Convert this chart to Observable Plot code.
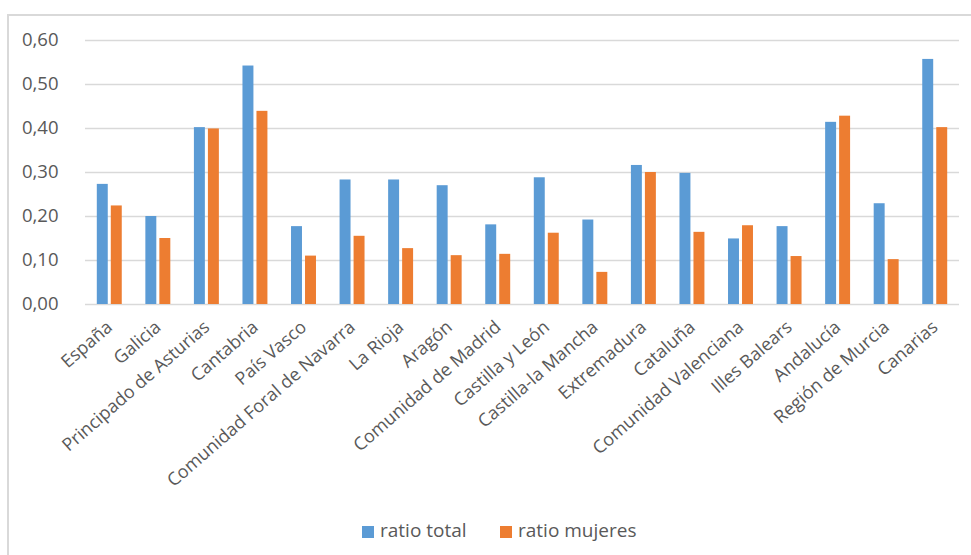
<!DOCTYPE html>
<html><head><meta charset="utf-8">
<script src="https://cdn.jsdelivr.net/npm/d3@7"></script>
<script src="https://cdn.jsdelivr.net/npm/@observablehq/plot@0.6"></script>
<style>
body{margin:0;background:#fff;font-family:"Open Sans",sans-serif;}
#wrap{position:relative;width:971px;height:555px;overflow:hidden;}
#frame{position:absolute;left:7px;top:14px;width:990px;height:580px;border:2px solid #d9d9d9;box-sizing:border-box;}
#chart{position:absolute;left:0;top:0;}
#legend{position:absolute;top:516px;left:0;width:971px;height:28px;font-size:19px;color:#595959;}
.item{position:absolute;top:0;line-height:28px;white-space:nowrap;}
.sw{display:inline-block;width:12px;height:12px;margin-right:6px;vertical-align:-1px;}
</style></head>
<body>
<div id="wrap">
  <div id="frame"></div>
  <div id="chart"></div>
  <div id="legend"></div>
</div>
<script>
const categories = ["España","Galicia","Principado de Asturias","Cantabria","País Vasco","Comunidad Foral de Navarra","La Rioja","Aragón","Comunidad de Madrid","Castilla y León","Castilla-la Mancha","Extremadura","Cataluña","Comunidad Valenciana","Illes Balears","Andalucía","Región de Murcia","Canarias"];
const ratioTotal   = [0.273,0.200,0.402,0.542,0.177,0.283,0.283,0.270,0.181,0.288,0.192,0.316,0.298,0.149,0.177,0.414,0.229,0.557];
const ratioMujeres = [0.224,0.150,0.399,0.439,0.110,0.155,0.127,0.111,0.114,0.162,0.073,0.300,0.164,0.179,0.109,0.428,0.102,0.402];
const seriesNames = ["ratio total","ratio mujeres"];
const seriesColors = ["#5B9BD5","#ED7D31"];
const yTicks = [0,0.1,0.2,0.3,0.4,0.5,0.6];

const totalRows = categories.map((c,i)=>({region:c, serie:seriesNames[0], value:ratioTotal[i]}));
const mujeresRows = categories.map((c,i)=>({region:c, serie:seriesNames[1], value:ratioMujeres[i]}));

const fmt = d => d.toFixed(2).replace(".", ",");

const chart = Plot.plot({
  width: 971, height: 500,
  marginTop: 40, marginBottom: 196, marginLeft: 85, marginRight: 12,
  style: {fontFamily: "'Open Sans', sans-serif", color: "#595959", background: "transparent"},
  x: {domain: categories, padding: 0, round: false, label: null, axis: null},
  y: {domain: [0, 0.6], label: null},
  color: {domain: seriesNames, range: seriesColors},
  marks: [
    Plot.gridY(yTicks, {stroke: "#d9d9d9", strokeOpacity: 1, strokeWidth: 1.5}),
    Plot.axisY(yTicks, {tickFormat: fmt, tickSize: 0, tickPadding: 27, fontSize: 18.5, fill: "#595959", label: null}),
    Plot.axisX({anchor: "bottom", tickRotate: -41, tickSize: 0, tickPadding: 20, fontSize: 18, fill: "#595959", label: null}),
    Plot.barY(totalRows, {x: "region", y: "value", fill: "serie", insetLeft: 18.8, insetRight: 18.8, dx: -7}),
    Plot.barY(mujeresRows, {x: "region", y: "value", fill: "serie", insetLeft: 18.8, insetRight: 18.8, dx: 7})
  ]
});
document.getElementById("chart").appendChild(chart);

const legend = document.getElementById("legend");
const legendLeft = [362, 500];
seriesNames.forEach((s,i)=>{
  const it = document.createElement("div");
  it.className = "item";
  it.style.left = legendLeft[i] + "px";
  const sw = document.createElement("span");
  sw.className = "sw";
  sw.style.background = seriesColors[i];
  it.appendChild(sw);
  it.appendChild(document.createTextNode(s));
  legend.appendChild(it);
});
</script>
</body></html>
